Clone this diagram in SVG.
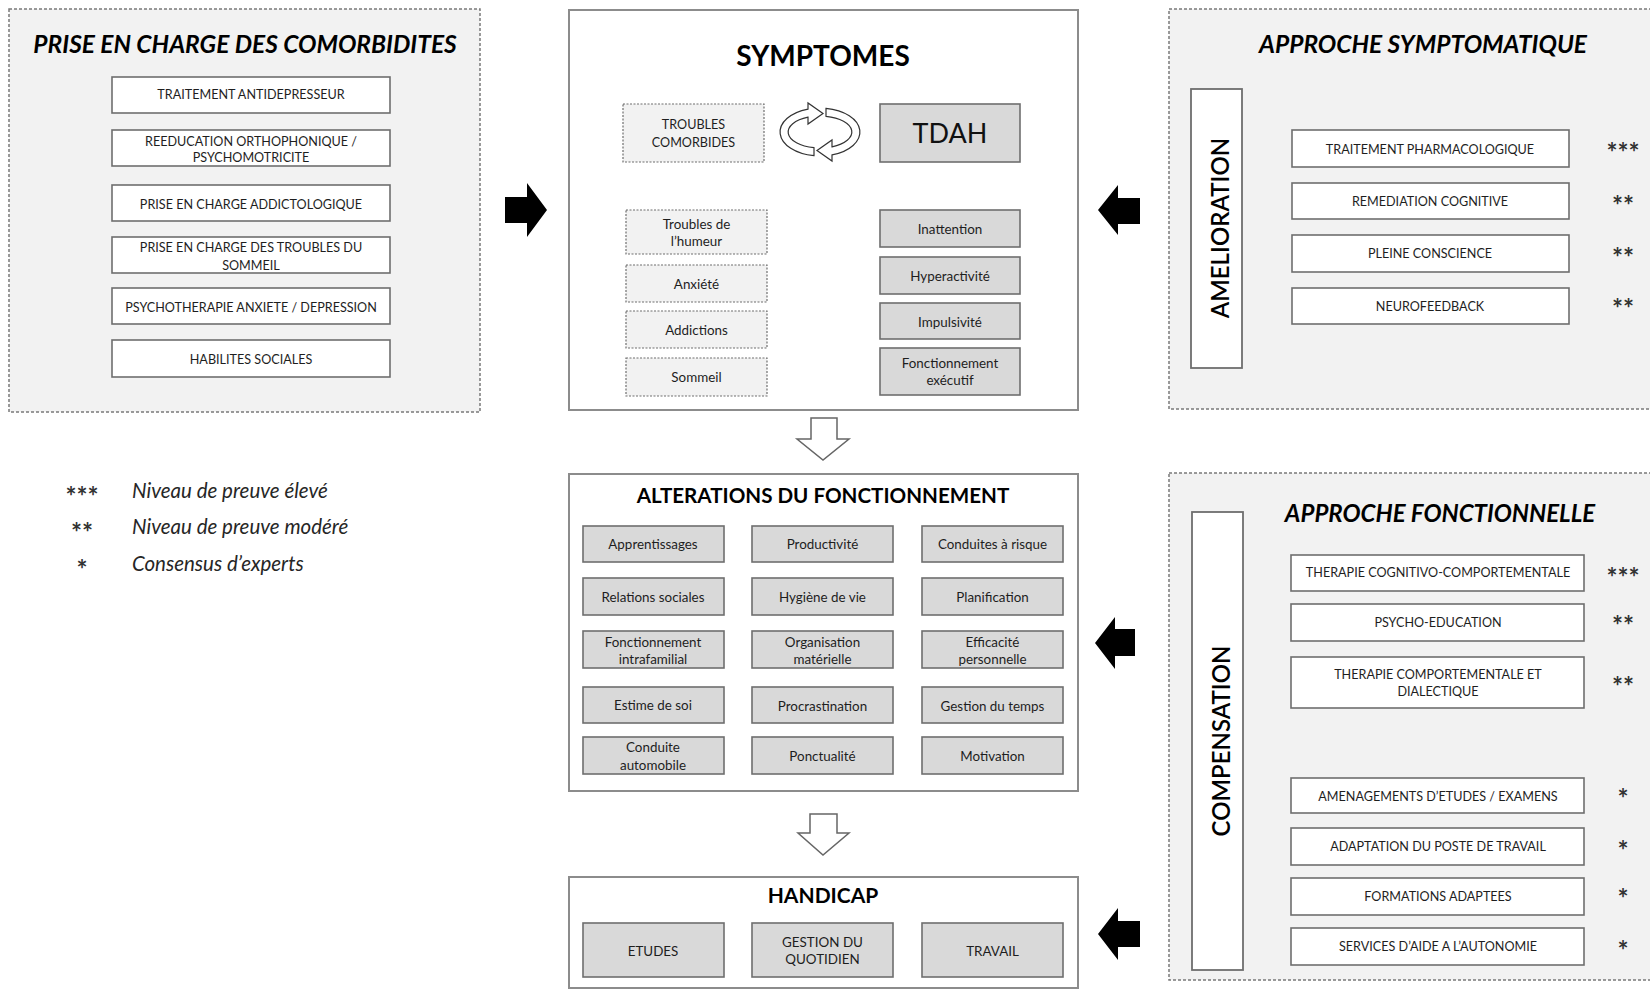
<svg xmlns="http://www.w3.org/2000/svg" width="1650" height="990" viewBox="0 0 1650 990">
<style>
.panel{fill:#f2f2f2;stroke:#7a7a7a;stroke-width:1.5;stroke-dasharray:3 2}
.main{fill:#fff;stroke:#8c8c8c;stroke-width:2}
.wbox{fill:#fff;stroke:#6e6e6e;stroke-width:1.6}
.gbox{fill:#d9d9d9;stroke:#6e6e6e;stroke-width:1.6}
.dbox{fill:#f2f2f2;stroke:#6e6e6e;stroke-width:1.2;stroke-dasharray:2 1.5}
.vbox{fill:#fff;stroke:#6e6e6e;stroke-width:1.8}
text{font-family:Lato,"Liberation Sans",sans-serif;fill:#1e1e1e;text-anchor:middle}
.cap{font-size:12.6px}
.lbl{font-size:13.4px}
.ttl{font-style:italic;font-weight:bold;font-size:24.5px;fill:#000}
.h{font-weight:bold;fill:#000}
.vt{font-size:24px;font-weight:600;fill:#000}
.star{font-size:26px;font-weight:bold;fill:#333}
.leg{font-style:italic;font-size:20.5px;text-anchor:start;fill:#262626}
.blk{fill:#000}
.dn{fill:#fff;stroke:#666;stroke-width:1.5}
.cyc{fill:#fff;stroke:#333;stroke-width:1.2}
</style>

<g id="panel-comorbidites">
<rect class="panel" x="9" y="9" width="471" height="403"/>
<text class="ttl" x="245" y="53">PRISE EN CHARGE DES COMORBIDITES</text>
<rect class="wbox" x="112" y="77" width="278" height="36"/>
<text class="cap" x="251" y="99">TRAITEMENT ANTIDEPRESSEUR</text>
<rect class="wbox" x="112" y="130" width="278" height="36"/>
<text class="cap" x="251" y="146">REEDUCATION ORTHOPHONIQUE /</text>
<text class="cap" x="251" y="162">PSYCHOMOTRICITE</text>
<rect class="wbox" x="112" y="185" width="278" height="36"/>
<text class="cap" x="251" y="209">PRISE EN CHARGE ADDICTOLOGIQUE</text>
<rect class="wbox" x="112" y="237" width="278" height="36"/>
<text class="cap" x="251" y="252">PRISE EN CHARGE DES TROUBLES DU</text>
<text class="cap" x="251" y="270">SOMMEIL</text>
<rect class="wbox" x="112" y="288" width="278" height="36"/>
<text class="cap" x="251" y="312">PSYCHOTHERAPIE ANXIETE / DEPRESSION</text>
<rect class="wbox" x="112" y="340" width="278" height="37"/>
<text class="cap" x="251" y="364">HABILITES SOCIALES</text>
</g>

<g id="legend">
<text class="star" x="82" y="506">***</text>
<text class="leg" x="132" y="498">Niveau de preuve élevé</text>
<text class="star" x="82" y="542">**</text>
<text class="leg" x="132" y="534">Niveau de preuve modéré</text>
<text class="star" x="82" y="579">*</text>
<text class="leg" x="132" y="571">Consensus d’experts</text>
</g>

<g id="symptomes">
<rect class="main" x="569" y="10" width="509" height="400"/>
<text class="h" x="823" y="66" style="font-size:28px">SYMPTOMES</text>
<rect class="dbox" x="623" y="104" width="141" height="58"/>
<text class="cap" x="693.5" y="129">TROUBLES</text>
<text class="cap" x="693.5" y="147">COMORBIDES</text>
<rect class="gbox" x="880" y="104" width="140" height="58"/>
<text x="950" y="143" style="font-size:27px;fill:#111">TDAH</text>
<path class="cyc" d="M814,155.7 A40,24 0 0 1 808,109.1 L808,103 L823,113.5 L808,124 L808,117.2 A32,16 0 0 0 814,147.7 Z"/>
<path class="cyc" d="M826,108.3 A40,24 0 0 1 832,154.9 L832,161 L817,150.5 L832,140 L832,146.8 A32,16 0 0 0 826,116.3 Z"/>
<rect class="dbox" x="626" y="210" width="141" height="44"/>
<text class="lbl" x="696.5" y="229">Troubles de</text>
<text class="lbl" x="696.5" y="246">l’humeur</text>
<rect class="dbox" x="626" y="265" width="141" height="37"/>
<text class="lbl" x="696.5" y="289">Anxiété</text>
<rect class="dbox" x="626" y="311" width="141" height="37"/>
<text class="lbl" x="696.5" y="335">Addictions</text>
<rect class="dbox" x="626" y="358" width="141" height="38"/>
<text class="lbl" x="696.5" y="382">Sommeil</text>
<rect class="gbox" x="880" y="210" width="140" height="37"/>
<text class="lbl" x="950" y="234">Inattention</text>
<rect class="gbox" x="880" y="257" width="140" height="37"/>
<text class="lbl" x="950" y="281">Hyperactivité</text>
<rect class="gbox" x="880" y="303" width="140" height="36"/>
<text class="lbl" x="950" y="327">Impulsivité</text>
<rect class="gbox" x="880" y="348" width="140" height="47"/>
<text class="lbl" x="950" y="368">Fonctionnement</text>
<text class="lbl" x="950" y="385">exécutif</text>
</g>

<g id="alterations">
<rect class="main" x="569" y="474" width="509" height="317"/>
<text class="h" x="823" y="503" style="font-size:20.6px">ALTERATIONS DU FONCTIONNEMENT</text>
<rect class="gbox" x="583" y="526" width="141" height="36"/>
<text class="lbl" x="653" y="549">Apprentissages</text>
<rect class="gbox" x="752" y="526" width="141" height="36"/>
<text class="lbl" x="822.5" y="549">Productivité</text>
<rect class="gbox" x="922" y="526" width="141" height="36"/>
<text class="lbl" x="992.5" y="549">Conduites à risque</text>
<rect class="gbox" x="583" y="578" width="141" height="37"/>
<text class="lbl" x="653" y="602">Relations sociales</text>
<rect class="gbox" x="752" y="578" width="141" height="37"/>
<text class="lbl" x="822.5" y="602">Hygiène de vie</text>
<rect class="gbox" x="922" y="578" width="141" height="37"/>
<text class="lbl" x="992.5" y="602">Planification</text>
<rect class="gbox" x="583" y="631" width="141" height="37"/>
<text class="lbl" x="653" y="647">Fonctionnement</text>
<text class="lbl" x="653" y="664">intrafamilial</text>
<rect class="gbox" x="752" y="631" width="141" height="37"/>
<text class="lbl" x="822.5" y="647">Organisation</text>
<text class="lbl" x="822.5" y="664">matérielle</text>
<rect class="gbox" x="922" y="631" width="141" height="37"/>
<text class="lbl" x="992.5" y="647">Efficacité</text>
<text class="lbl" x="992.5" y="664">personnelle</text>
<rect class="gbox" x="583" y="687" width="141" height="36"/>
<text class="lbl" x="653" y="710">Estime de soi</text>
<rect class="gbox" x="752" y="687" width="141" height="36"/>
<text class="lbl" x="822.5" y="711">Procrastination</text>
<rect class="gbox" x="922" y="687" width="141" height="36"/>
<text class="lbl" x="992.5" y="711">Gestion du temps</text>
<rect class="gbox" x="583" y="737" width="141" height="37"/>
<text class="lbl" x="653" y="752">Conduite</text>
<text class="lbl" x="653" y="770">automobile</text>
<rect class="gbox" x="752" y="737" width="141" height="37"/>
<text class="lbl" x="822.5" y="761">Ponctualité</text>
<rect class="gbox" x="922" y="737" width="141" height="37"/>
<text class="lbl" x="992.5" y="761">Motivation</text>
</g>

<g id="handicap">
<rect class="main" x="569" y="877" width="509" height="111"/>
<text class="h" x="823" y="903" style="font-size:21px">HANDICAP</text>
<rect class="gbox" x="583" y="923" width="141" height="54"/>
<text class="lbl" x="653" y="956">ETUDES</text>
<rect class="gbox" x="752" y="923" width="141" height="54"/>
<text class="lbl" x="822.5" y="947">GESTION DU</text>
<text class="lbl" x="822.5" y="964">QUOTIDIEN</text>
<rect class="gbox" x="922" y="923" width="141" height="54"/>
<text class="lbl" x="992.5" y="956">TRAVAIL</text>
</g>

<g id="approche-symptomatique">
<rect class="panel" x="1169" y="9" width="500" height="400"/>
<text class="ttl" x="1423" y="53">APPROCHE SYMPTOMATIQUE</text>
<rect class="vbox" x="1191" y="89" width="51" height="279"/>
<text class="vt" transform="translate(1229,228) rotate(-90)">AMELIORATION</text>
<rect class="wbox" x="1292" y="130" width="277" height="37"/>
<text class="cap" x="1430" y="154">TRAITEMENT PHARMACOLOGIQUE</text>
<rect class="wbox" x="1292" y="183" width="277" height="36"/>
<text class="cap" x="1430" y="206">REMEDIATION COGNITIVE</text>
<rect class="wbox" x="1292" y="235" width="277" height="37"/>
<text class="cap" x="1430" y="258">PLEINE CONSCIENCE</text>
<rect class="wbox" x="1292" y="288" width="277" height="36"/>
<text class="cap" x="1430" y="311">NEUROFEEDBACK</text>
<text class="star" x="1623" y="162">***</text>
<text class="star" x="1623" y="215">**</text>
<text class="star" x="1623" y="267">**</text>
<text class="star" x="1623" y="318">**</text>
</g>

<g id="approche-fonctionnelle">
<rect class="panel" x="1169" y="473" width="500" height="507"/>
<text class="ttl" x="1440" y="522" style="font-size:24px">APPROCHE FONCTIONNELLE</text>
<rect class="vbox" x="1192" y="512" width="51" height="458"/>
<text class="vt" transform="translate(1230,741) rotate(-90)">COMPENSATION</text>
<rect class="wbox" x="1291" y="555" width="293" height="36"/>
<text class="cap" x="1438" y="577">THERAPIE COGNITIVO-COMPORTEMENTALE</text>
<rect class="wbox" x="1291" y="604" width="293" height="37"/>
<text class="cap" x="1438" y="627">PSYCHO-EDUCATION</text>
<rect class="wbox" x="1291" y="657" width="293" height="51"/>
<text class="cap" x="1438" y="679">THERAPIE COMPORTEMENTALE ET</text>
<text class="cap" x="1438" y="696">DIALECTIQUE</text>
<rect class="wbox" x="1291" y="778" width="293" height="35"/>
<text class="cap" x="1438" y="801">AMENAGEMENTS D’ETUDES / EXAMENS</text>
<rect class="wbox" x="1291" y="828" width="293" height="37"/>
<text class="cap" x="1438" y="851">ADAPTATION DU POSTE DE TRAVAIL</text>
<rect class="wbox" x="1291" y="878" width="293" height="37"/>
<text class="cap" x="1438" y="901">FORMATIONS ADAPTEES</text>
<rect class="wbox" x="1291" y="928" width="293" height="37"/>
<text class="cap" x="1438" y="951">SERVICES D’AIDE A L’AUTONOMIE</text>
<text class="star" x="1623" y="587">***</text>
<text class="star" x="1623" y="635">**</text>
<text class="star" x="1623" y="696">**</text>
<text class="star" x="1623" y="808">*</text>
<text class="star" x="1623" y="860">*</text>
<text class="star" x="1623" y="908">*</text>
<text class="star" x="1623" y="960">*</text>
</g>

<g id="connectors">
<polygon class="blk" points="505,197 527,197 527,183 547,210 527,237 527,223 505,223"/>
<polygon class="blk" points="1098,210 1118,185 1118,198 1140,198 1140,224 1118,224 1118,235"/>
<polygon class="blk" points="1095,643 1115,617 1115,629 1135,629 1135,656 1115,656 1115,669"/>
<polygon class="blk" points="1098,934 1118,908 1118,921 1140,921 1140,947 1118,947 1118,960"/>
<polygon class="dn" points="811,418 837,418 837,439 849,439 823,460 797,439 811,439"/>
<polygon class="dn" points="810,814 837,814 837,833 849,833 823,855 798,833 810,833"/>
</g>
</svg>
